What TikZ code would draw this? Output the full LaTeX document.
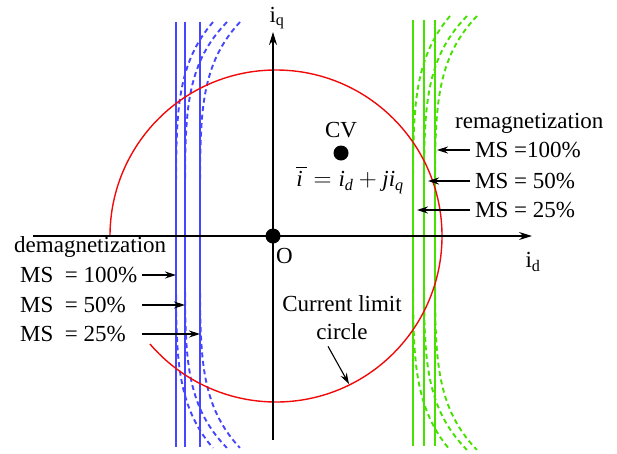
\documentclass[tikz,border=0pt]{standalone}
\usepackage{amsmath}
\usepackage{fontspec}
\setmainfont{Liberation Serif}
\usetikzlibrary{arrows.meta,positioning}
\definecolor{msblue}{RGB}{70,70,255}
\definecolor{msgreen}{RGB}{70,225,0}
\definecolor{limred}{RGB}{240,10,10}

\begin{document}
\begin{tikzpicture}[x=1pt,y=1pt,yscale=-1,
	every node/.style={font=\fontsize{23}{28}\selectfont, inner sep=0pt},
	axis/.style={line width=1.3pt, -{Stealth[length=13pt,width=8pt]}},
	ptr/.style={line width=1.1pt, -{Stealth[length=11pt,width=7pt]}},
	demag/.style={draw=msblue, line width=1.9pt},
	remag/.style={draw=msgreen, line width=1.9pt},
	shifted/.style={dash pattern=on 5pt off 3.5pt},
	dot/.style={circle, fill=black, minimum size=15pt}]
	\useasboundingbox (0,0) rectangle (617,453);
	
	%demagnetization lines
	\foreach \xx/\aa in {176/37,185/42,200/40}{
		\draw[demag] (\xx,22) -- (\xx,447);
		\draw[demag,shifted] plot[domain=-1:1,samples=70,variable=\t] ({\xx+\aa*abs(\t)^5},{235+213*\t});
	}
	%remagnetization lines
	\foreach \xx/\aa in {413/37,424/43,435/42}{
		\draw[remag] (\xx,20) -- (\xx,446);
		\draw[remag,shifted] plot[domain=-1:1,samples=70,variable=\t] ({\xx+\aa*abs(\t)^5},{233+217*\t});
	}
	
	%current limit circle
	\draw[limred, line width=1.4pt] (110,236) arc[start angle=180, end angle=499.4, radius=166];
	
	%axes
	\coordinate (xbeg) at (33,236);
	\coordinate (xend) at (532,236);
	\coordinate (ybeg) at (273,440);
	\coordinate (yend) at (273,32);
	\draw[axis] (xbeg) -- (xend);
	\draw[axis] (ybeg) -- (yend);
	\node[dot] (O) at (273,236) {};
	\node[anchor=north west] (Olbl) at (276,248) {O};
	\node (iq) at (277,18) {i\textsubscript{q}};
	\node (id) at (533,262) {i\textsubscript{d}};
	
	%operating point
	\node[dot] (cv) at (341,153) {};
	\node[above=7pt of cv] (cvlbl) {CV};
	\node (ivec) at (350,180) {$\overline{\textit{i}\,} = \textit{i}_{\textit{d}} + \textit{j}\textit{i}_{\textit{q}}$};
	
	%remagnetization labels
	\node[anchor=west] (remag) at (455,123) {remagnetization};
	\node[anchor=west] (r100) at (475,150) {MS =100\%};
	\node[anchor=west] (r50) at (475,181) {MS = 50\%};
	\node[anchor=west] (r25) at (475,210) {MS = 25\%};
	\coordinate (rtip100) at (437,0);
	\coordinate (rtip50) at (428,0);
	\coordinate (rtip25) at (417,0);
	\draw[ptr] ([xshift=-5pt]r100.west) -- (r100.west -| rtip100);
	\draw[ptr] ([xshift=-5pt]r50.west) -- (r50.west -| rtip50);
	\draw[ptr] ([xshift=-5pt]r25.west) -- (r25.west -| rtip25);
	
	%demagnetization labels
	\node[anchor=west] (demag) at (14,247) {demagnetization};
	\node[anchor=west] (l100) at (20,275) {MS\ \ = 100\%};
	\node[anchor=west] (l50) at (20,305) {MS\ \ = 50\%};
	\node[anchor=west] (l25) at (20,334) {MS\ \ = 25\%};
	\coordinate (ltail) at (142,0);
	\coordinate (ltip100) at (176,0);
	\coordinate (ltip50) at (185,0);
	\coordinate (ltip25) at (200,0);
	\draw[ptr] (l100.west -| ltail) -- (l100.west -| ltip100);
	\draw[ptr] (l50.west -| ltail) -- (l50.west -| ltip50);
	\draw[ptr] (l25.west -| ltail) -- (l25.west -| ltip25);
	
	%circle label
	\node[align=center] (cl) at (342,318) {Current limit\\circle};
	\coordinate (cltip) at (349,384);
	\draw[ptr] ([shift={(-14,6)}]cl.south) -- (cltip);
\end{tikzpicture}
\end{document}
